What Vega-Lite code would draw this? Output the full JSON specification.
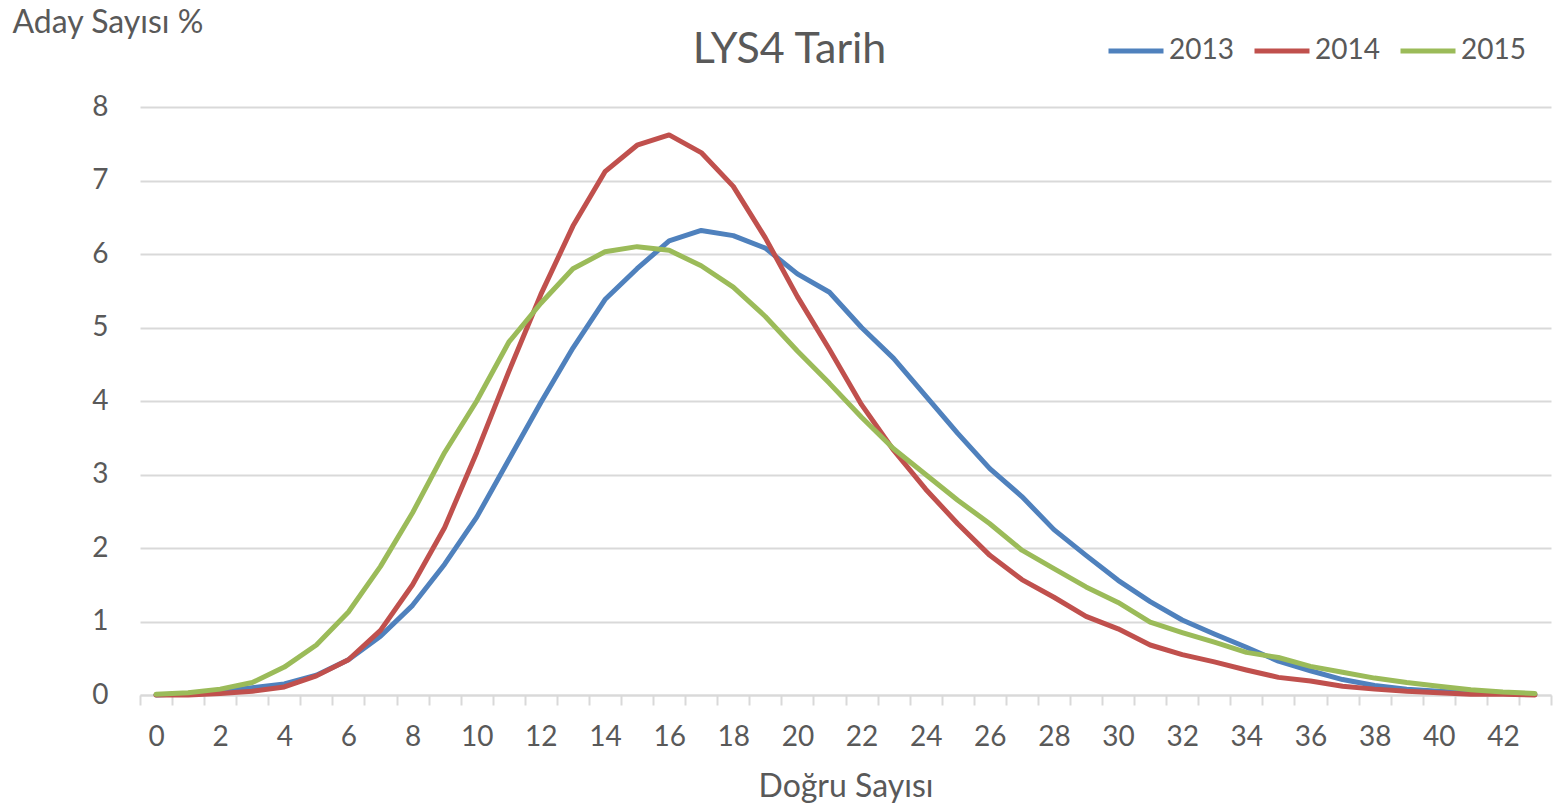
{
  "$schema": "https://vega.github.io/schema/vega-lite/v6.json",
  "autosize": "none",
  "width": 1411,
  "height": 588,
  "padding": {"left": 140, "top": 107, "right": 4, "bottom": 113},
  "background": "white",
  "config": {
    "font": "Lato",
    "view": {"stroke": null},
    "axis": {"labelColor": "#595959", "titleColor": "#595959", "labelFont": "Lato", "titleFont": "Lato", "titleFontWeight": "normal"}
  },
  "title": {"text": "LYS4 Tarih", "fontSize": 43, "font": "Lato", "fontWeight": "normal", "color": "#595959", "anchor": "middle", "frame": "group", "dx": -56, "offset": 0, "dy": 66},
  "data": {
    "values": [
      {"d": 0, "2013": 0.0, "2014": 0.0, "2015": 0.01},
      {"d": 1, "2013": 0.02, "2014": 0.0, "2015": 0.03},
      {"d": 2, "2013": 0.05, "2014": 0.02, "2015": 0.08},
      {"d": 3, "2013": 0.1, "2014": 0.05, "2015": 0.17},
      {"d": 4, "2013": 0.15, "2014": 0.11, "2015": 0.38},
      {"d": 5, "2013": 0.27, "2014": 0.26, "2015": 0.68},
      {"d": 6, "2013": 0.48, "2014": 0.48, "2015": 1.13},
      {"d": 7, "2013": 0.8, "2014": 0.88, "2015": 1.75},
      {"d": 8, "2013": 1.22, "2014": 1.5, "2015": 2.48},
      {"d": 9, "2013": 1.78, "2014": 2.28, "2015": 3.3},
      {"d": 10, "2013": 2.42, "2014": 3.3, "2015": 4.0},
      {"d": 11, "2013": 3.2, "2014": 4.4, "2015": 4.8},
      {"d": 12, "2013": 3.98, "2014": 5.45, "2015": 5.33},
      {"d": 13, "2013": 4.72, "2014": 6.38, "2015": 5.8},
      {"d": 14, "2013": 5.38, "2014": 7.12, "2015": 6.03},
      {"d": 15, "2013": 5.8, "2014": 7.48, "2015": 6.1},
      {"d": 16, "2013": 6.18, "2014": 7.62, "2015": 6.05},
      {"d": 17, "2013": 6.32, "2014": 7.38, "2015": 5.84},
      {"d": 18, "2013": 6.25, "2014": 6.92, "2015": 5.55},
      {"d": 19, "2013": 6.08, "2014": 6.22, "2015": 5.15},
      {"d": 20, "2013": 5.73, "2014": 5.42, "2015": 4.68},
      {"d": 21, "2013": 5.48, "2014": 4.7, "2015": 4.24},
      {"d": 22, "2013": 5.0, "2014": 3.95, "2015": 3.78},
      {"d": 23, "2013": 4.58, "2014": 3.33, "2015": 3.35},
      {"d": 24, "2013": 4.07, "2014": 2.8, "2015": 3.0},
      {"d": 25, "2013": 3.56, "2014": 2.33, "2015": 2.65},
      {"d": 26, "2013": 3.08, "2014": 1.9, "2015": 2.33},
      {"d": 27, "2013": 2.7, "2014": 1.57, "2015": 1.97},
      {"d": 28, "2013": 2.25, "2014": 1.33, "2015": 1.72},
      {"d": 29, "2013": 1.9, "2014": 1.07, "2015": 1.47},
      {"d": 30, "2013": 1.56, "2014": 0.9, "2015": 1.26},
      {"d": 31, "2013": 1.27, "2014": 0.68, "2015": 0.99},
      {"d": 32, "2013": 1.02, "2014": 0.55, "2015": 0.85},
      {"d": 33, "2013": 0.83, "2014": 0.45, "2015": 0.72},
      {"d": 34, "2013": 0.65, "2014": 0.34, "2015": 0.58},
      {"d": 35, "2013": 0.46, "2014": 0.24, "2015": 0.51},
      {"d": 36, "2013": 0.33, "2014": 0.19, "2015": 0.39},
      {"d": 37, "2013": 0.21, "2014": 0.12, "2015": 0.31},
      {"d": 38, "2013": 0.13, "2014": 0.08, "2015": 0.23},
      {"d": 39, "2013": 0.08, "2014": 0.05, "2015": 0.17},
      {"d": 40, "2013": 0.05, "2014": 0.03, "2015": 0.12},
      {"d": 41, "2013": 0.03, "2014": 0.01, "2015": 0.07},
      {"d": 42, "2013": 0.02, "2014": 0.01, "2015": 0.04},
      {"d": 43, "2013": 0.01, "2014": 0.0, "2015": 0.02}
    ]
  },
  "transform": [{"fold": ["2013", "2014", "2015"], "as": ["year", "v"]}],
  "mark": {"type": "line", "strokeWidth": 5, "strokeCap": "round", "strokeJoin": "round"},
  "encoding": {
    "x": {
      "field": "d", "type": "ordinal", "bandPosition": 0.5,
      "scale": {"type": "band", "paddingInner": 0, "paddingOuter": 0},
      "axis": {
        "title": "Doğru Sayısı", "titleFontSize": 32, "titlePadding": 20,
        "labelAngle": 0, "labelFontSize": 28, "labelPadding": 18,
        "labelExpr": "datum.value % 2 === 0 ? datum.label : ''",
        "tickBand": "extent", "tickSize": 10, "tickColor": "#d9d9d9", "tickWidth": 2,
        "domainColor": "#d9d9d9", "domainWidth": 2, "grid": false
      }
    },
    "y": {
      "field": "v", "type": "quantitative",
      "scale": {"domain": [0, 8], "nice": false},
      "axis": {
        "title": "Aday Sayısı %", "titleFontSize": 32, "titleAngle": 0, "titleAlign": "left", "titleBaseline": "middle",
        "titleX": -128, "titleY": -85,
        "labelFontSize": 28, "labelPadding": 32, "values": [0, 1, 2, 3, 4, 5, 6, 7, 8], "labelOverlap": false,
        "ticks": false, "domain": false, "gridColor": "#d9d9d9", "gridWidth": 2
      }
    },
    "color": {
      "field": "year", "type": "nominal",
      "scale": {"domain": ["2013", "2014", "2015"], "range": ["#4F81BD", "#C0504D", "#9BBB59"]},
      "legend": {
        "title": null, "orient": "none", "direction": "horizontal", "columns": 3,
        "legendX": 966, "legendY": -86,
        "symbolType": "stroke", "symbolSize": 3025, "symbolStrokeWidth": 5,
        "labelFontSize": 28, "labelColor": "#595959", "labelFont": "Lato", "labelOffset": 3,
        "columnPadding": 10
      }
    }
  }
}
